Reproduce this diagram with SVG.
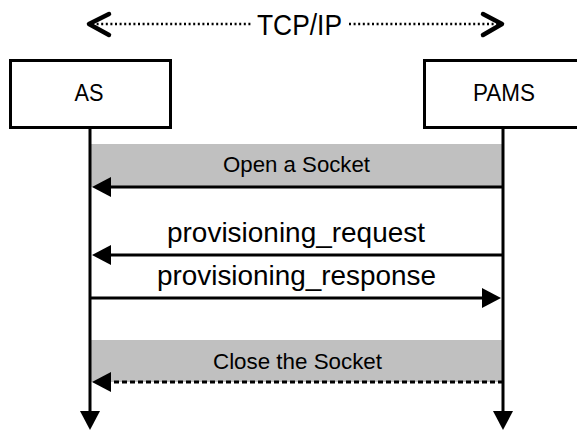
<svg xmlns="http://www.w3.org/2000/svg" width="577" height="431" viewBox="0 0 577 431">
<style>
.box{fill:#fff;stroke:#000;stroke-width:3}
.lbl{font-family:"Liberation Sans",Arial,sans-serif;fill:#000;text-anchor:middle}
.life{stroke:#000;stroke-width:3;fill:none}
.msg{stroke:#000;stroke-width:3;fill:none}
.band{fill:#c0c0c0}
.dot{stroke:#000;stroke-width:2.5;stroke-dasharray:2 2.6;fill:none}
.chev{stroke:#000;stroke-width:4.5;fill:none;stroke-linecap:round;stroke-linejoin:round}
</style>
<defs>
<marker id="ah" viewBox="0 0 19 20" refX="2" refY="10" markerWidth="19" markerHeight="20" markerUnits="userSpaceOnUse" orient="auto">
<path d="M0,0 L19,10 L0,20 z" fill="#000"/>
</marker>
</defs>
<g id="tcpip">
<line class="dot" x1="92" y1="24" x2="252" y2="24"/>
<line class="dot" x1="349" y1="24" x2="499" y2="24"/>
<polyline class="chev" points="109,14 89,24 109,35"/>
<polyline class="chev" points="483,14 502,24 483,35"/>
<text class="lbl" x="299.5" y="35" font-size="29" textLength="85" lengthAdjust="spacingAndGlyphs">TCP/IP</text>
</g>
<g id="bands">
<rect class="band" x="91" y="144" width="411" height="43"/>
<rect class="band" x="91" y="340" width="411" height="42"/>
</g>
<g id="AS">
<rect class="box" x="10.5" y="60.5" width="160" height="67"/>
<text class="lbl" x="89" y="101" font-size="23" textLength="29" lengthAdjust="spacingAndGlyphs">AS</text>
</g>
<g id="PAMS">
<rect class="box" x="424.5" y="60.5" width="158" height="67"/>
<text class="lbl" x="504" y="101" font-size="23" textLength="62" lengthAdjust="spacingAndGlyphs">PAMS</text>
</g>
<g id="connectors">
<line class="life" x1="90" y1="129" x2="90" y2="413" marker-end="url(#ah)"/>
<line class="life" x1="503" y1="129" x2="503" y2="413" marker-end="url(#ah)"/>
<line class="msg" x1="503" y1="187" x2="109" y2="187" marker-end="url(#ah)"/>
<line class="msg" x1="503" y1="255" x2="109" y2="255" marker-end="url(#ah)"/>
<line class="msg" x1="90" y1="298" x2="484" y2="298" marker-end="url(#ah)"/>
<line class="msg" x1="503" y1="382" x2="109" y2="382" stroke-dasharray="5 3" marker-end="url(#ah)"/>
</g>
<g id="labels">
<text class="lbl" x="296.5" y="172" font-size="22" textLength="147" lengthAdjust="spacingAndGlyphs">Open a Socket</text>
<text class="lbl" x="296" y="242" font-size="28" textLength="258" lengthAdjust="spacingAndGlyphs">provisioning_request</text>
<text class="lbl" x="296.5" y="285" font-size="28" textLength="279" lengthAdjust="spacingAndGlyphs">provisioning_response</text>
<text class="lbl" x="297.5" y="369" font-size="22" textLength="169" lengthAdjust="spacingAndGlyphs">Close the Socket</text>
</g>
</svg>
